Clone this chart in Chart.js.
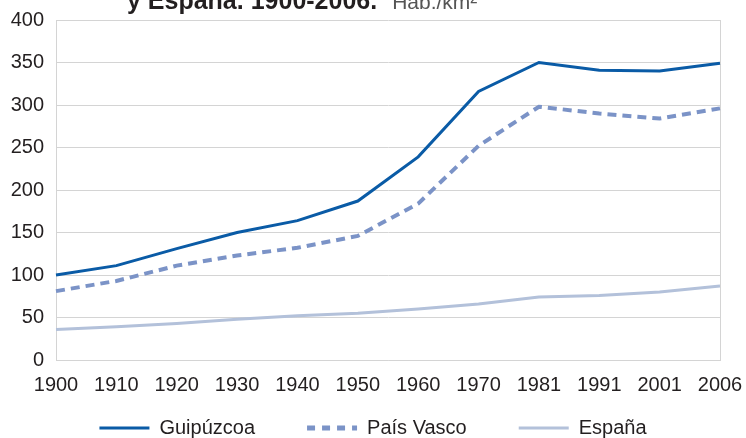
<!DOCTYPE html>
<html>
<head>
<meta charset="utf-8">
<script src="https://cdn.jsdelivr.net/npm/chart.js@4/dist/chart.umd.min.js"></script>
<style>
  html, body { margin: 0; padding: 0; background: #ffffff; }
  #wrap { width: 746px; height: 438px; position: relative; }
</style>
</head>
<body>
<div id="wrap"><canvas id="c" width="746" height="438"></canvas></div>
<script>
const years = ['1900','1910','1920','1930','1940','1950','1960','1970','1981','1991','2001','2006'];
const guipuzcoa = [100, 111, 131, 150, 164, 187, 239, 316, 350, 341, 340, 349];
const paisVasco = [81, 93, 111, 123, 132, 146, 184, 252, 298, 290, 284, 296];
const espana = [36, 39, 43, 48, 52, 55, 60, 66, 74, 76, 80, 87];
const yTicks = [0, 50, 100, 150, 200, 250, 300, 350, 400];
const titleBold = 'y España. 1900-2006.';
const titleUnit = 'Hab./km²';

const FONT = "'Liberation Sans', Arial, Helvetica, sans-serif";
const GRID = '#d4d4d4';
const TEXT = '#231f20';

const titlePlugin = {
  id: 'cutTitle',
  afterDraw(chart) {
    const ctx = chart.ctx;
    ctx.save();
    ctx.fillStyle = TEXT;
    ctx.textBaseline = 'alphabetic';
    ctx.textAlign = 'left';
    ctx.font = "bold 25px " + FONT;
    let x = 127;
    ctx.fillText(titleBold, x, 9);
    x += ctx.measureText(titleBold).width + 15;
    ctx.font = "21px " + FONT;
    ctx.fillStyle = '#555';
    ctx.fillText(titleUnit, x, 9);
    ctx.restore();
  }
};

const legendFix = {
  id: 'legendFix',
  beforeLayout(chart) {
    const lg = chart.legend;
    if (lg && !lg._patched) {
      const orig = lg.fit.bind(lg);
      lg.fit = function() { orig(); this.height = 28; };
      lg._patched = true;
    }
  },
  afterLayout(chart) {
    const lg = chart.legend;
    const pad = lg.options.labels.padding;
    const rowTop = 418;
    lg.top = rowTop - pad;
    lg.bottom = chart.height;
    lg.left = 0;
    lg.right = chart.width;
  }
};

new Chart(document.getElementById('c'), {
  type: 'line',
  data: {
    labels: years,
    datasets: [
      { label: 'Guipúzcoa', data: guipuzcoa, borderColor: '#0a5ba6', backgroundColor: '#0a5ba6', borderWidth: 3, pointRadius: 0, tension: 0, fill: false },
      { label: 'País Vasco', data: paisVasco, borderColor: '#7b93c7', backgroundColor: '#7b93c7', borderWidth: 4, borderDash: [9, 6], pointRadius: 0, tension: 0, fill: false },
      { label: 'España', data: espana, borderColor: '#b3c1da', backgroundColor: '#b3c1da', borderWidth: 3, pointRadius: 0, tension: 0, fill: false }
    ]
  },
  options: {
    responsive: false,
    animation: false,
    devicePixelRatio: 1,
    layout: { padding: { top: 20, left: 10, right: 26, bottom: 0 } },
    plugins: {
      title: { display: false },
      tooltip: { enabled: false },
      legend: {
        display: true,
        position: 'bottom',
        align: 'center',
        labels: {
          usePointStyle: true,
          pointStyle: 'line',
          pointStyleWidth: 50,
          boxWidth: 50,
          boxHeight: 20,
          padding: 52,
          color: TEXT,
          font: { family: FONT, size: 20 },
          generateLabels: (chart) => {
            const items = Chart.defaults.plugins.legend.labels.generateLabels(chart);
            items.forEach((it) => {
              const ds = chart.data.datasets[it.datasetIndex];
              it.strokeStyle = ds.borderColor;
              it.lineWidth = ds.borderDash ? 5 : ds.borderWidth;
              it.lineDash = ds.borderDash ? [8, 7] : [];
              it.lineCap = 'butt';
            });
            return items;
          }
        }
      }
    },
    scales: {
      x: {
        type: 'category',
        offset: false,
        afterFit: (axis) => { axis.paddingLeft = 0; axis.paddingRight = 0; },
        grid: {
          display: true,
          drawTicks: false,
          lineWidth: 1,
          color: (c) => (c.index === years.length - 1 ? GRID : 'rgba(0,0,0,0)')
        },
        border: { display: true, color: GRID, width: 1 },
        ticks: {
          color: TEXT,
          padding: 13,
          maxRotation: 0,
          autoSkip: false,
          font: { family: FONT, size: 20 }
        }
      },
      y: {
        min: 0,
        max: 400,
        afterBuildTicks: (axis) => { axis.ticks = yTicks.map(v => ({ value: v })); },
        afterFit: (axis) => { axis.width = 46; axis.paddingTop = 0; axis.paddingBottom = 0; },
        grid: { display: true, drawTicks: false, color: GRID, lineWidth: 1 },
        border: { display: true, color: GRID, width: 1 },
        ticks: {
          color: TEXT,
          padding: 12,
          font: { family: FONT, size: 20 }
        }
      }
    }
  },
  plugins: [titlePlugin, legendFix]
});
</script>
</body>
</html>
